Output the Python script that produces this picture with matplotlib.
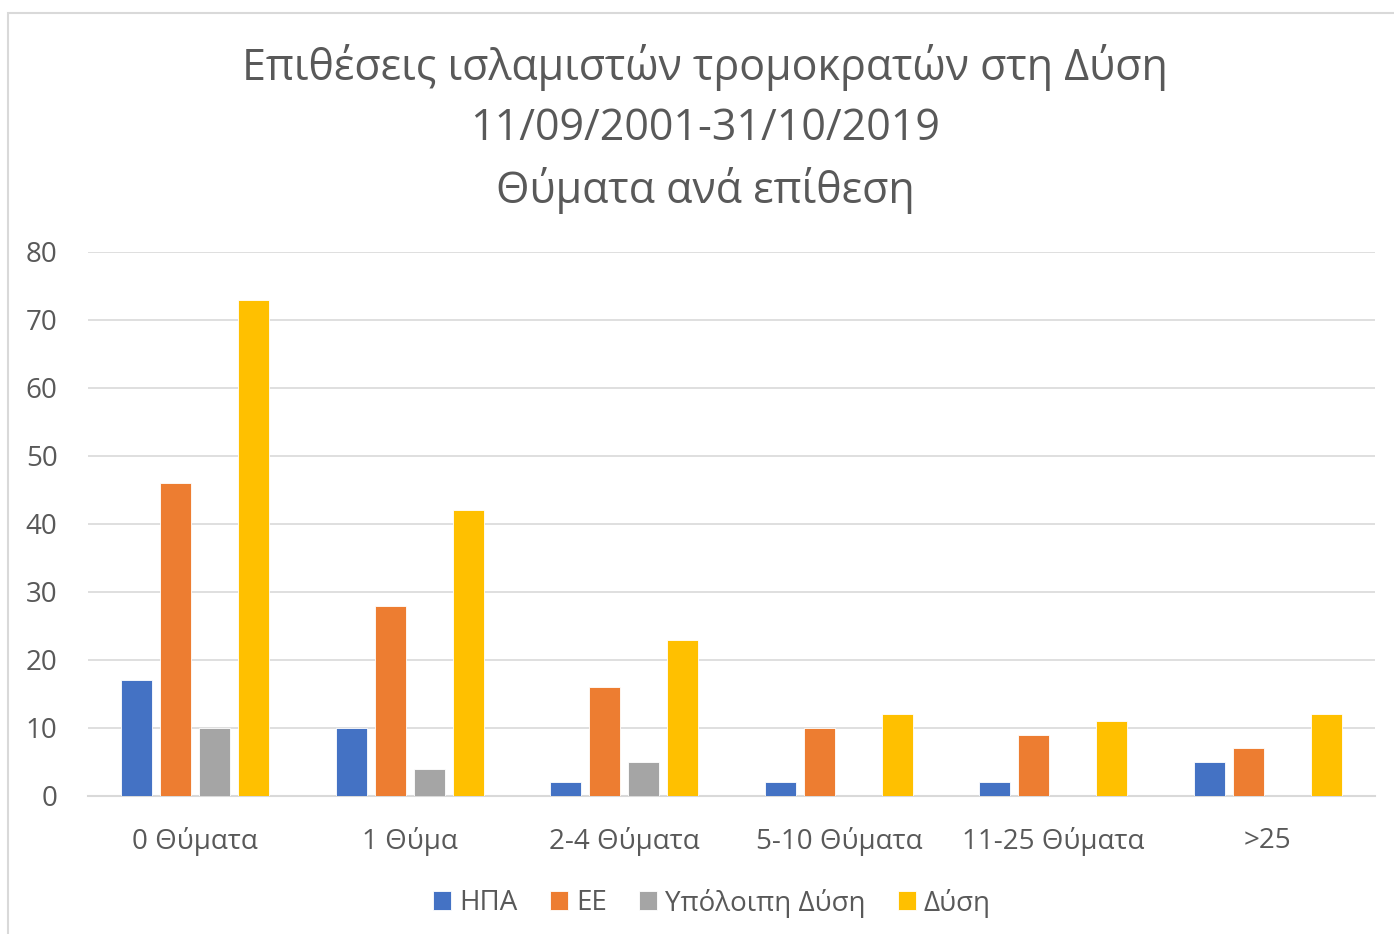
import matplotlib
matplotlib.use("Agg")
import matplotlib.pyplot as plt
import numpy as np
from matplotlib.patches import Rectangle

categories = ["0 Θύματα", "1 Θύμα", "2-4 Θύματα", "5-10 Θύματα", "11-25 Θύματα", ">25"]
series_names = ["ΗΠΑ", "ΕΕ", "Υπόλοιπη Δύση", "Δύση"]
usa = [17, 10, 2, 2, 2, 5]
eu = [46, 28, 16, 10, 9, 7]
rest_west = [10, 4, 5, 0, 0, 0]
west = [73, 42, 23, 12, 11, 12]
yticks = [0, 10, 20, 30, 40, 50, 60, 70, 80]
title = "Επιθέσεις ισλαμιστών τρομοκρατών στη Δύση\n11/09/2001-31/10/2019\nΘύματα ανά επίθεση"

colors = ["#4472C4", "#ED7D31", "#A5A5A5", "#FFC000"]
text_color = "#595959"
plt.rcParams['font.family'] = ['Open Sans', 'DejaVu Sans']

fig = plt.figure(figsize=(13.94, 9.34), dpi=100)
# chart frame border
fig.patches.append(Rectangle((8/1394, -0.01), 1.02, (934-13)/934 + 0.01, transform=fig.transFigure,
                             fill=False, edgecolor="#D9D9D9", linewidth=1.5))
ax = fig.add_axes([88/1394, 138/934, 1287/1394, 544/934])

x = np.arange(len(categories))
width = 31/214.4
step = 39/214.4
data = [usa, eu, rest_west, west]
for k, (vals, name, c) in enumerate(zip(data, series_names, colors)):
    offs = (k - 1.5) * step
    ax.bar(x + offs, vals, width=width, color=c, label=name, edgecolor="white", linewidth=0.6, zorder=3)

ax.set_xlim(-0.5, len(categories) - 0.5)
ax.set_ylim(0, 80)
ax.set_yticks(yticks)
ax.set_xticks(x)
ax.set_xticklabels(categories)
ax.grid(axis='y', color="#D9D9D9", linewidth=1.2, zorder=0)
for s in ["top", "right", "left"]:
    ax.spines[s].set_visible(False)
ax.spines["bottom"].set_color("#D9D9D9")
ax.spines["bottom"].set_linewidth(1.5)
ax.tick_params(axis='both', length=0, labelsize=20, colors=text_color)
ax.tick_params(axis='y', pad=22)
ax.tick_params(axis='x', pad=22)

fig.text(705/1394, 1 - 129/934, title, ha='center', va='center', fontsize=31,
         color=text_color, linespacing=1.46)

leg = fig.legend(loc='center', bbox_to_anchor=(712/1394, 1 - 903/934), ncol=4, frameon=False,
                 fontsize=20, handlelength=0.65, handleheight=0.65, handletextpad=0.3, columnspacing=1.15)
for t in leg.get_texts():
    t.set_color(text_color)

fig.savefig("out.png", dpi=100)
